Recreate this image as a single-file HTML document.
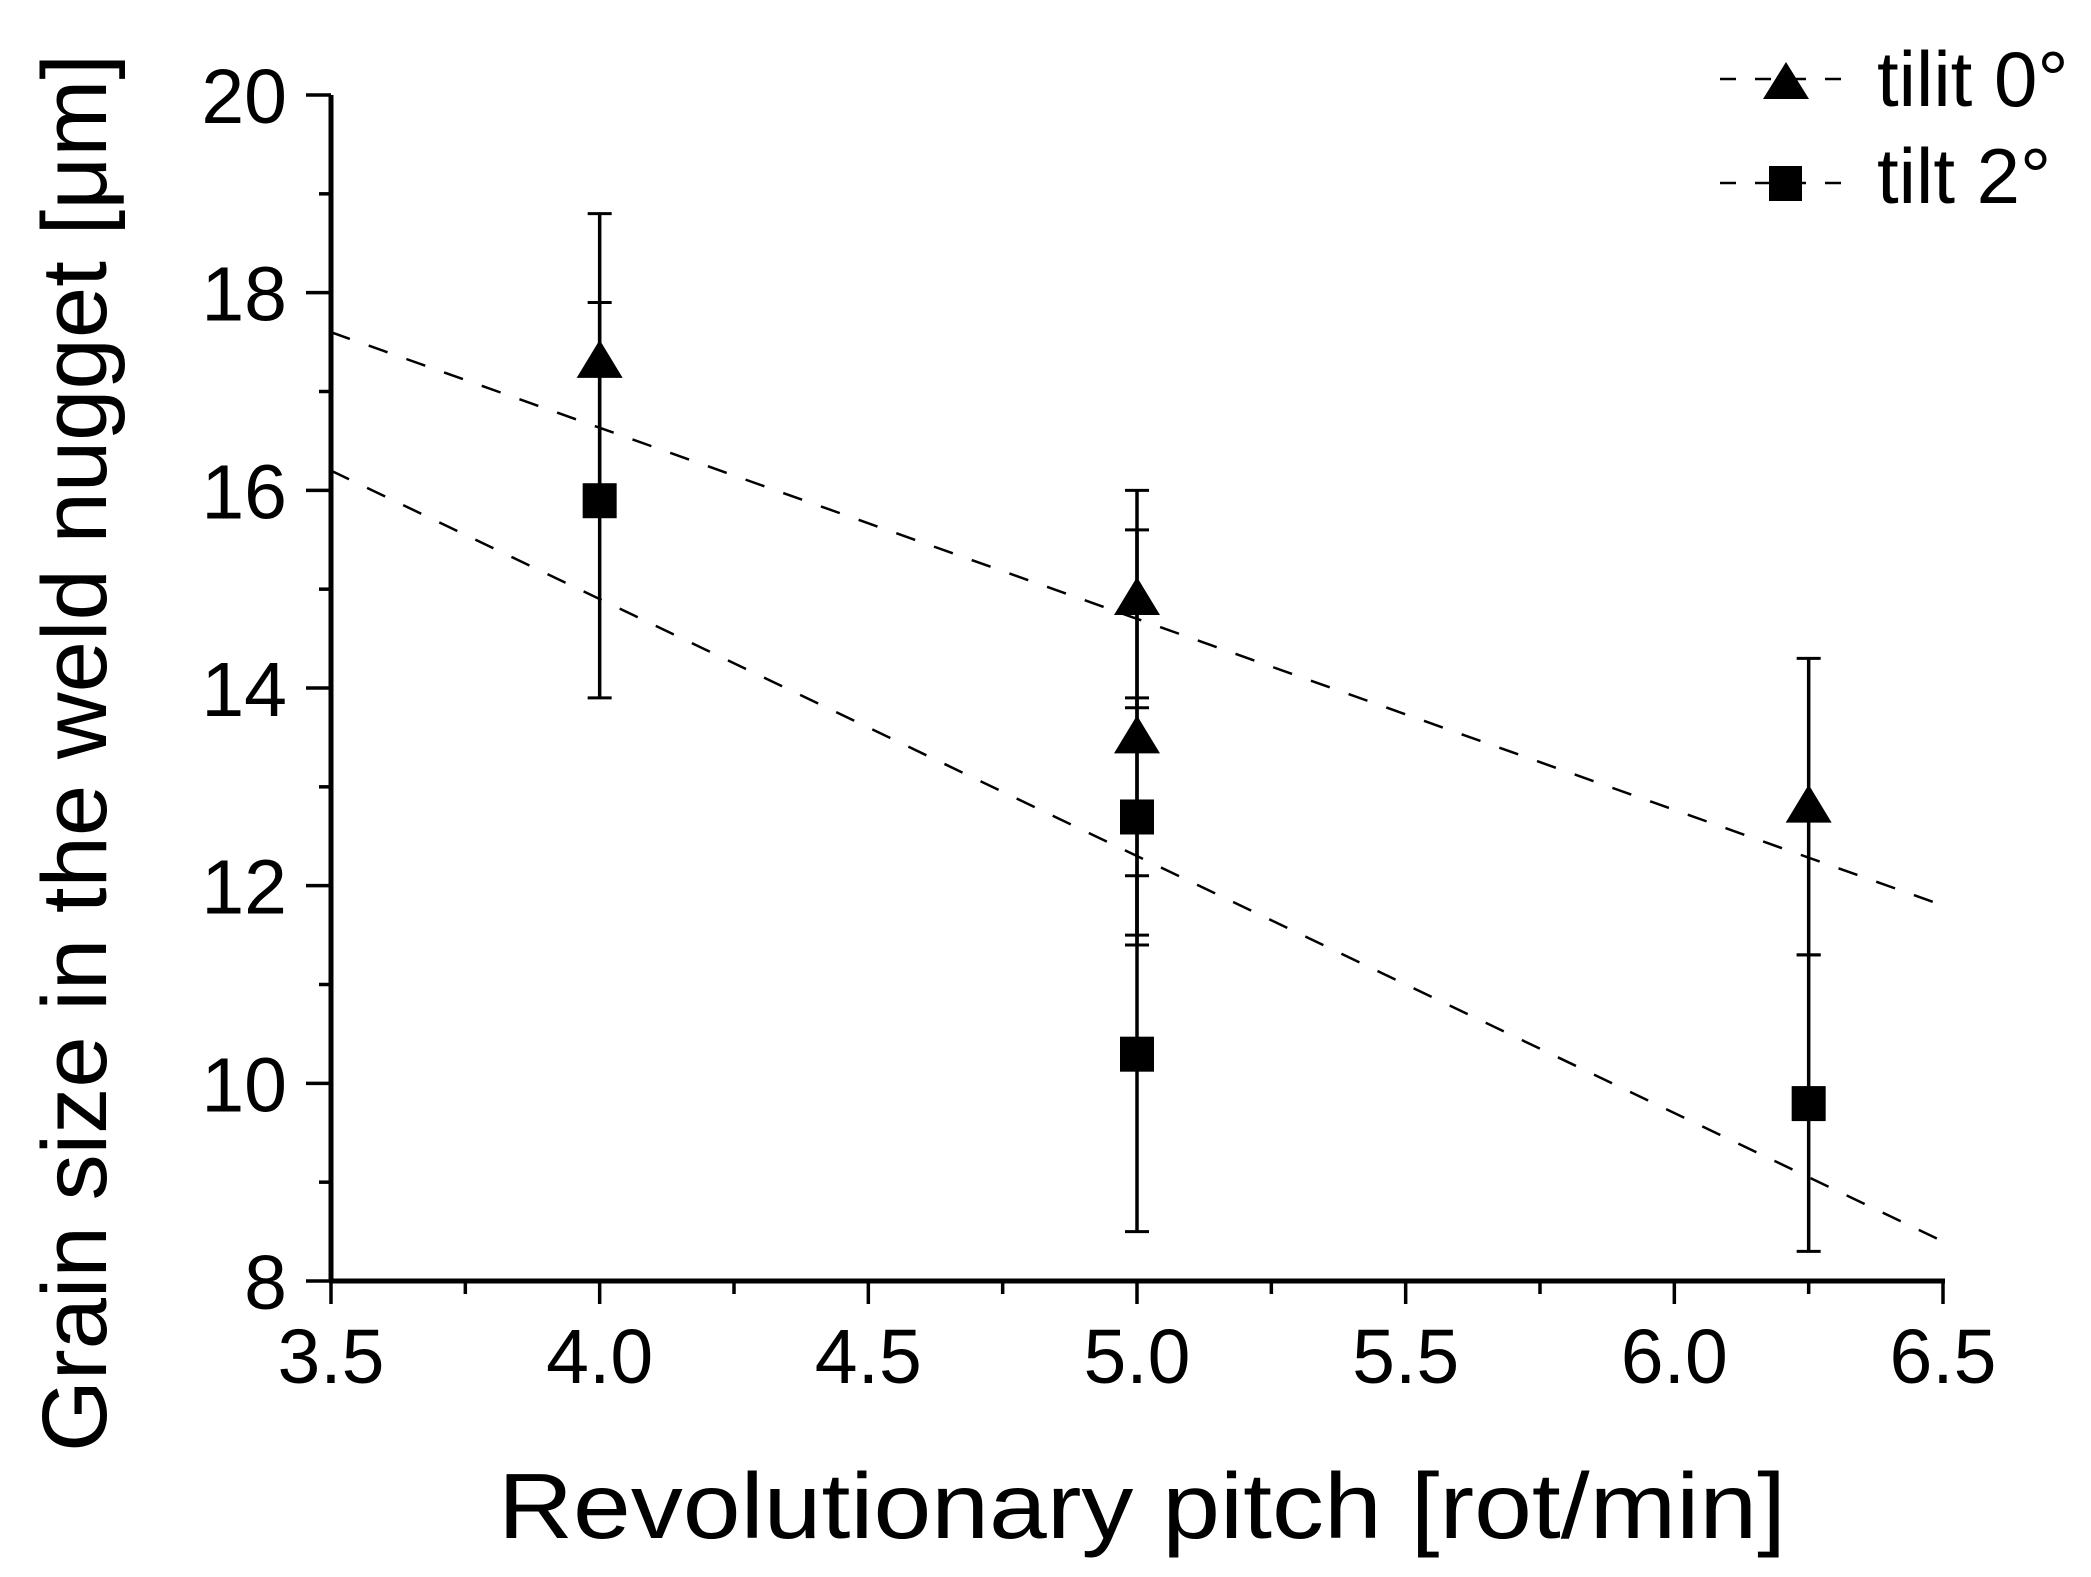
<!DOCTYPE html>
<html><head><meta charset="utf-8">
<style>
html,body{margin:0;padding:0;background:#fff;}
svg{display:block;font-family:"Liberation Sans",Arial,sans-serif;}
</style></head>
<body>
<svg id="chart" width="2091" height="1577" viewBox="0 0 2091 1577" xmlns="http://www.w3.org/2000/svg">
<rect x="0" y="0" width="2091" height="1577" fill="#fff"/>
<g id="axes"></g>
<g id="fits"></g>
<g id="marks"></g>
<text x="1142" y="1538" font-size="93" text-anchor="middle" textLength="1288" lengthAdjust="spacingAndGlyphs">Revolutionary pitch [rot/min]</text>
<text transform="translate(106,753) rotate(-90)" x="0" y="0" font-size="92" text-anchor="middle" textLength="1398" lengthAdjust="spacingAndGlyphs">Grain size in the weld nugget [μm]</text>
<g>
  <g>
    <line x1="1720" y1="79" x2="1845" y2="79" stroke="#000" stroke-width="2.5" stroke-dasharray="16,19"/>
    <polygon points="1763,99 1809,99 1786,62" fill="#000"/>
    <text x="1877" y="106" font-size="78">tilit 0°</text>
  </g>
  <g>
    <line x1="1720" y1="183" x2="1845" y2="183" stroke="#000" stroke-width="2.5" stroke-dasharray="16,19"/>
    <rect x="1769" y="166" width="33" height="35" fill="#000"/>
    <text x="1877" y="203" font-size="78">tilt 2°</text>
  </g>
</g>
</svg>
<script>
// data
const xTicks = [3.5, 4.0, 4.5, 5.0, 5.5, 6.0, 6.5];
const xTickLabels = ["3.5","4.0","4.5","5.0","5.5","6.0","6.5"];
const yTicks = [8, 10, 12, 14, 16, 18, 20];
const yTickLabels = ["8","10","12","14","16","18","20"];
const tilt0X = [4.0, 5.0, 5.0, 6.25];
const tilt0Y = [17.3, 14.9, 13.5, 12.8];
const tilt0Err = [1.5, 1.1, 2.1, 1.5];
const tilt2X = [4.0, 5.0, 5.0, 6.25];
const tilt2Y = [15.9, 12.7, 10.3, 9.8];
const tilt2Err = [2.0, 1.2, 1.8, 1.5];
const fitX = [3.5, 6.5];
const fit0Y = [17.6, 11.8];
const fit2Y = [16.2, 8.4];

const NS = "http://www.w3.org/2000/svg";
const X0 = 331, X1 = 1943, Y0 = 1281, Y1 = 95;
const xs = v => X0 + (v - 3.5) / 3 * (X1 - X0);
const ys = v => Y0 - (v - 8) / 12 * (Y0 - Y1);
function mk(tag, attrs, parent) {
  const e = document.createElementNS(NS, tag);
  for (const k in attrs) e.setAttribute(k, attrs[k]);
  parent.appendChild(e);
  return e;
}
const axes = document.getElementById('axes');
let el = mk('line', {x1:X0, y1:Y1, x2:X0, y2:Y0, stroke:'#000', 'stroke-width':5}, axes);


el = mk('line', {x1:X0-2, y1:Y0, x2:X1+2, y2:Y0, stroke:'#000', 'stroke-width':5}, axes);


xTicks.forEach((v, i) => {
  const t = mk('line', {x1:xs(v), y1:Y0, x2:xs(v), y2:Y0+23, stroke:'#000', 'stroke-width':3.5}, axes);
  
  
  if (i < xTicks.length - 1) {
    const m = mk('line', {x1:xs(v+0.25), y1:Y0, x2:xs(v+0.25), y2:Y0+13, stroke:'#000', 'stroke-width':3.5}, axes);
    
    
  }
  const tx = mk('text', {x:xs(v), y:1383, 'font-size':77, 'text-anchor':'middle'}, axes);
  tx.textContent = xTickLabels[i];
  
  
});
yTicks.forEach((v, i) => {
  const t = mk('line', {x1:X0-25, y1:ys(v), x2:X0, y2:ys(v), stroke:'#000', 'stroke-width':3.5}, axes);
  
  
  if (i < yTicks.length - 1) {
    const m = mk('line', {x1:X0-12, y1:ys(v+1), x2:X0, y2:ys(v+1), stroke:'#000', 'stroke-width':3.5}, axes);
    
    
  }
  const tx = mk('text', {x:287, y:ys(v)+28, 'font-size':77, 'text-anchor':'end'}, axes);
  tx.textContent = yTickLabels[i];
  
  
});
const fits = document.getElementById('fits');
el = mk('line', {x1:xs(fitX[0]), y1:ys(fit0Y[0]), x2:xs(fitX[1]), y2:ys(fit0Y[1]), stroke:'#000', 'stroke-width':2.5, 'stroke-dasharray':'20,20'}, fits);


el = mk('line', {x1:xs(fitX[0]), y1:ys(fit2Y[0]), x2:xs(fitX[1]), y2:ys(fit2Y[1]), stroke:'#000', 'stroke-width':2.5, 'stroke-dasharray':'20,20'}, fits);



const marks = document.getElementById('marks');
function errbar(x, y, e) {
  const cx = xs(x);
  const g = mk('g', {}, marks);
  
  
  mk('line', {x1:cx, y1:ys(y+e), x2:cx, y2:ys(y-e), stroke:'#000', 'stroke-width':3.5}, g);
  mk('line', {x1:cx-12, y1:ys(y+e), x2:cx+12, y2:ys(y+e), stroke:'#000', 'stroke-width':3}, g);
  mk('line', {x1:cx-12, y1:ys(y-e), x2:cx+12, y2:ys(y-e), stroke:'#000', 'stroke-width':3}, g);
}
tilt0X.forEach((x, i) => errbar(x, tilt0Y[i], tilt0Err[i]));
tilt2X.forEach((x, i) => errbar(x, tilt2Y[i], tilt2Err[i]));
tilt0X.forEach((x, i) => {
  const cx = xs(x), cy = ys(tilt0Y[i]);
  const p = mk('polygon', {points:`${cx-23},${cy+16} ${cx+23},${cy+16} ${cx},${cy-22}`, fill:'#000'}, marks);
  
  
});
tilt2X.forEach((x, i) => {
  const cx = xs(x), cy = ys(tilt2Y[i]);
  const r = mk('rect', {x:cx-17, y:cy-17, width:34, height:35, fill:'#000'}, marks);
  
  
});
</script>
</body></html>
